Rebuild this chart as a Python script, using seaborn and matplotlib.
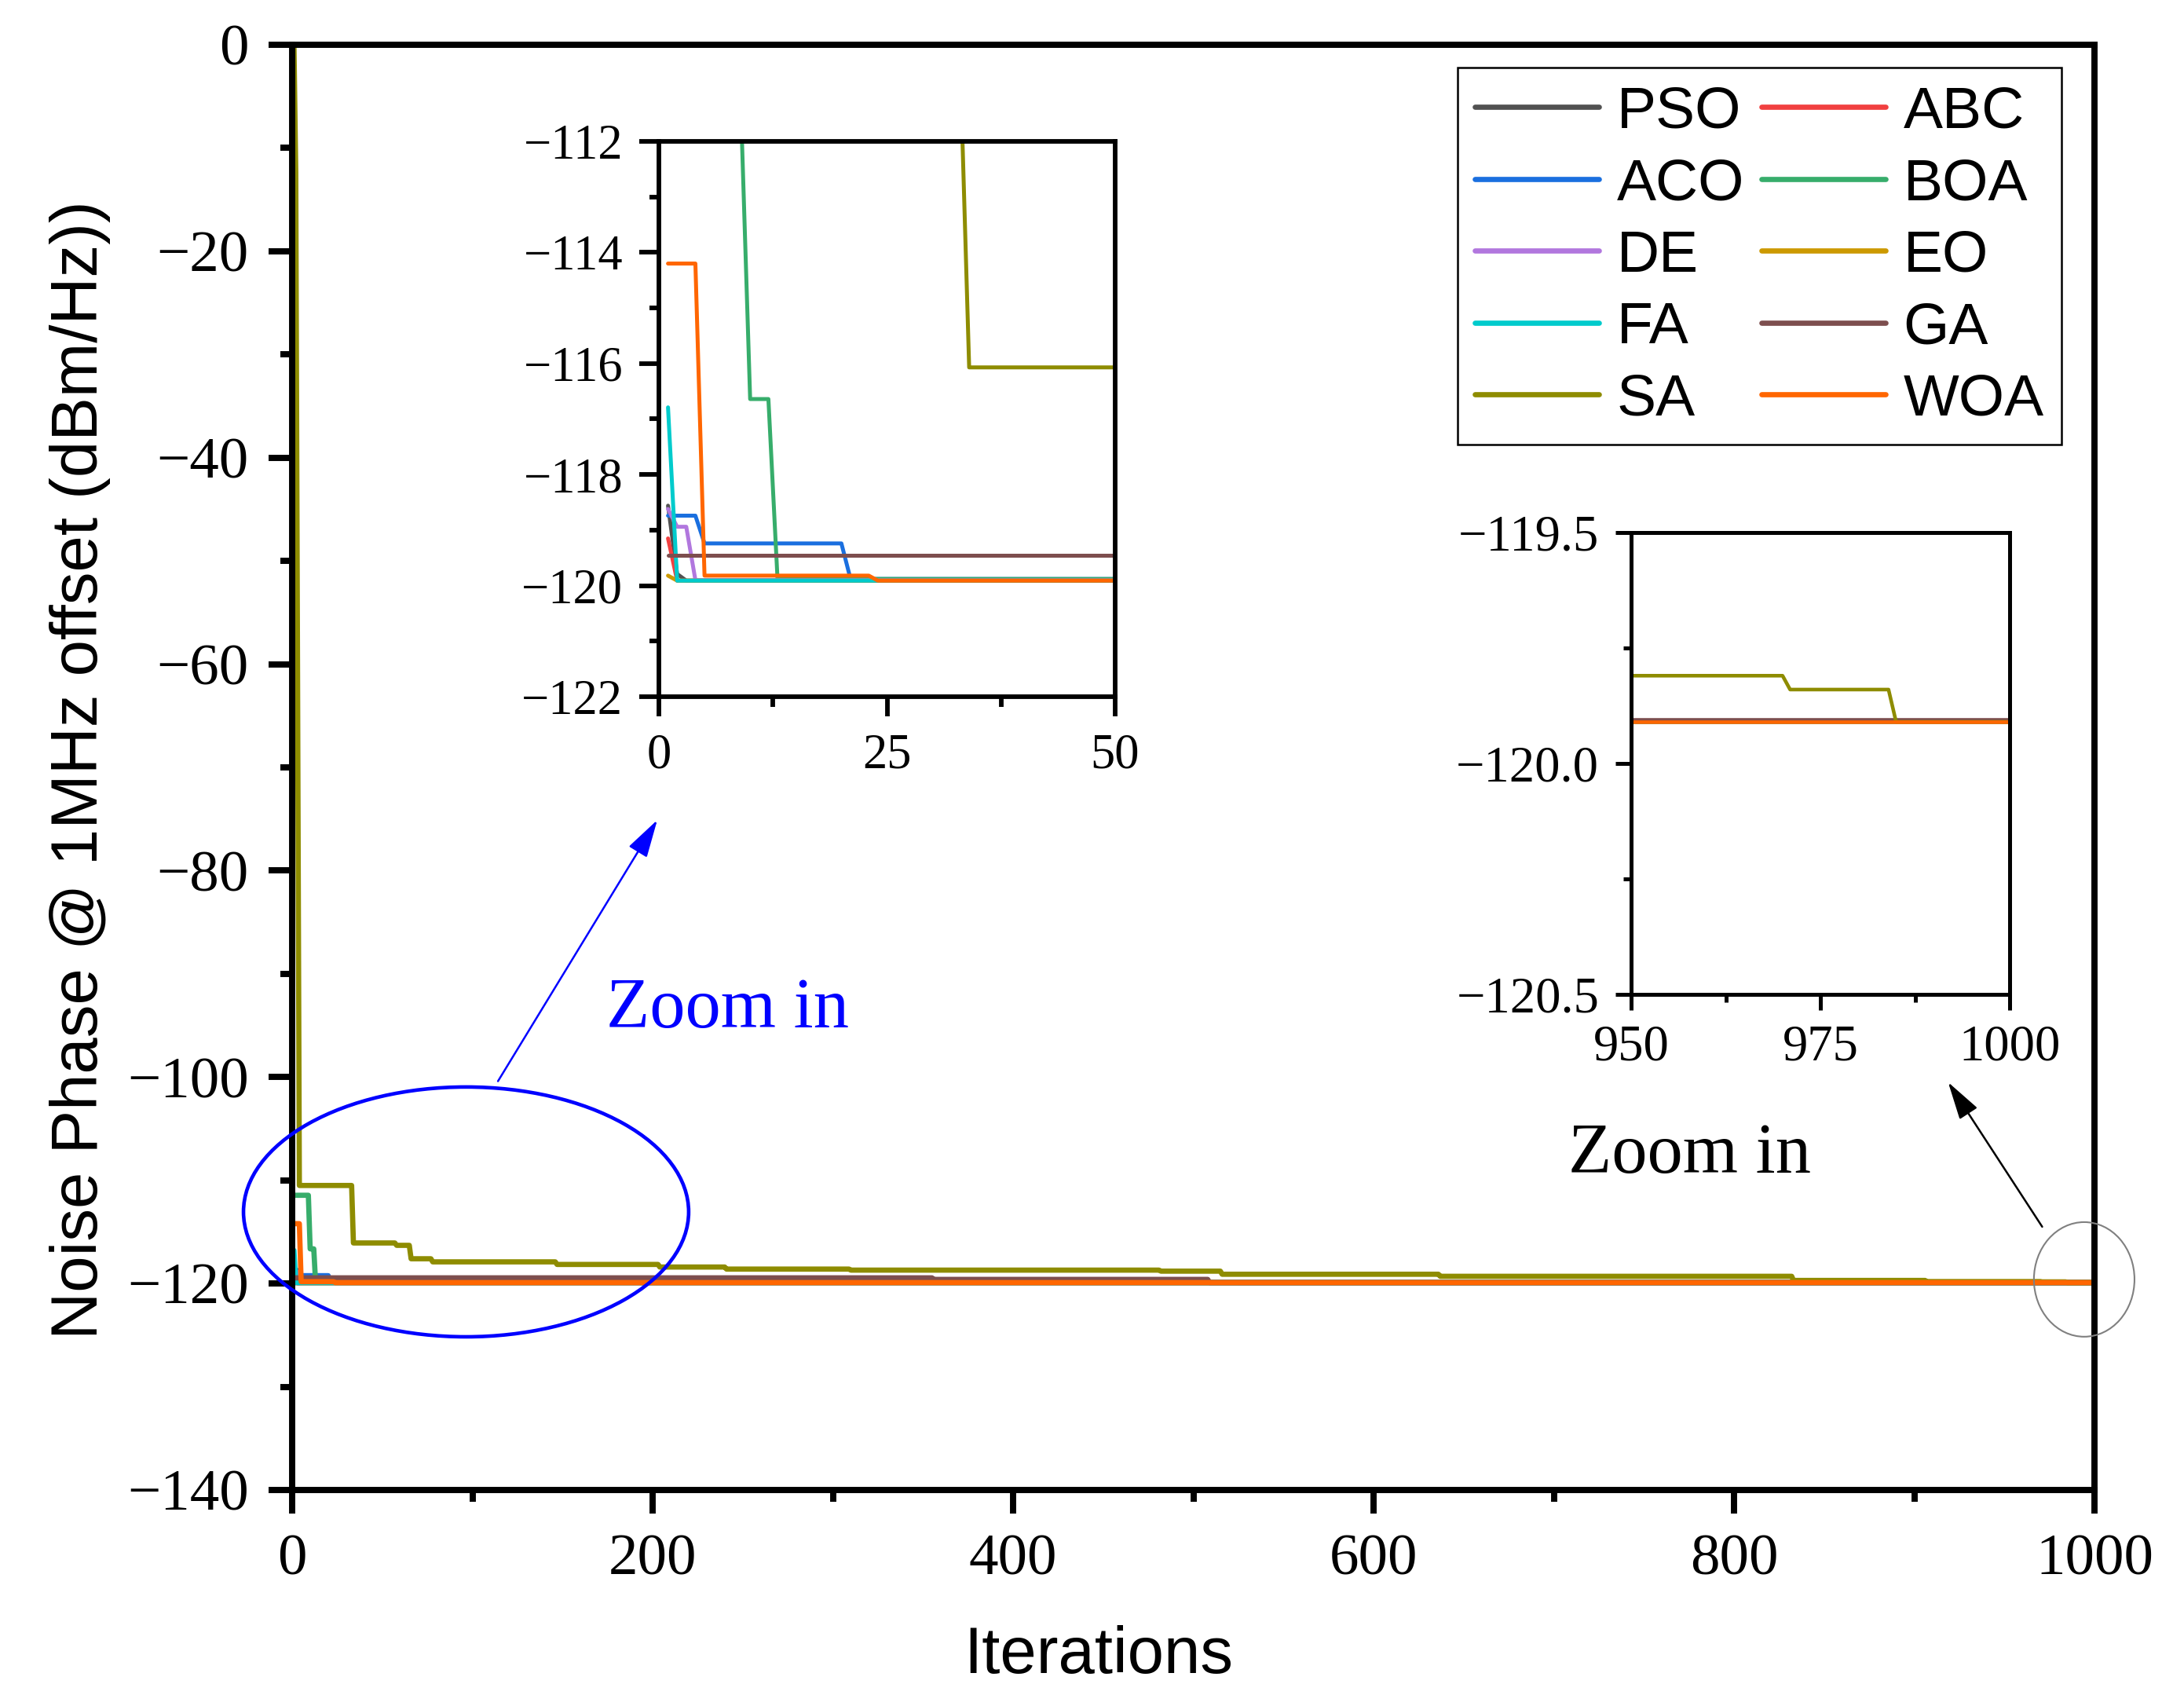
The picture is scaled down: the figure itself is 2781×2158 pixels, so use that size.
import matplotlib
matplotlib.use("Agg")
import matplotlib.pyplot as plt
import pandas as pd
import seaborn as sns
from matplotlib.lines import Line2D
from matplotlib.patches import Ellipse
from matplotlib.ticker import FuncFormatter, MultipleLocator

algorithms = ["PSO", "ABC", "ACO", "BOA", "DE", "EO", "FA", "GA", "SA", "WOA"]
colors = ["#515151", "#F14040", "#1A6FDF", "#37AD6B", "#B177DE",
          "#CC9900", "#00CBCC", "#7D4E4E", "#8E8C00", "#FF6600"]

# best-so-far curves, given at the iterations where they change (dBm/Hz)
pso_iter = [1, 2, 3, 1000]
pso_val = [-118.56, -119.79, -119.91, -119.91]
abc_iter = [1, 2, 1000]
abc_val = [-119.15, -119.91, -119.91]
aco_iter = [1, 4, 5, 20, 21, 1000]
aco_val = [-118.74, -118.74, -119.24, -119.24, -119.88, -119.91]
boa_iter = [1, 9, 10, 12, 13, 1000]
boa_val = [-111.45, -111.45, -116.64, -116.64, -119.88, -119.91]
de_iter = [1, 2, 3, 4, 1000]
de_val = [-118.62, -118.94, -118.94, -119.9, -119.91]
eo_iter = [1, 2, 1000]
eo_val = [-119.82, -119.91, -119.91]
fa_iter = [1, 2, 1000]
fa_val = [-116.79, -119.91, -119.91]
ga_iter = [1, 355, 356, 508, 509, 1000]
ga_val = [-119.45, -119.45, -119.6, -119.6, -119.905, -119.905]
sa_iter = [1, 2, 3, 4, 33, 34, 57, 58, 65, 66, 77, 78, 146, 147, 203, 204,
           240, 241, 309, 310, 481, 482, 515, 516, 636, 637, 832, 833, 906,
           907, 970, 971, 984, 985, 1000]
sa_val = [0.0, -12.4, -61.4, -110.5, -110.5, -116.07, -116.07, -116.3, -116.3,
          -117.6, -117.6, -117.9, -117.9, -118.15, -118.15, -118.4, -118.4,
          -118.6, -118.6, -118.7, -118.7, -118.8, -118.8, -119.1, -119.1,
          -119.3, -119.3, -119.7, -119.7, -119.81, -119.81, -119.84, -119.84,
          -119.91, -119.91]
woa_iter = [1, 4, 5, 23, 24, 1000]
woa_val = [-114.2, -114.2, -119.82, -119.82, -119.91, -119.91]

curves = {
    "PSO": (pso_iter, pso_val), "ABC": (abc_iter, abc_val),
    "ACO": (aco_iter, aco_val), "BOA": (boa_iter, boa_val),
    "DE": (de_iter, de_val), "EO": (eo_iter, eo_val),
    "FA": (fa_iter, fa_val), "GA": (ga_iter, ga_val),
    "SA": (sa_iter, sa_val), "WOA": (woa_iter, woa_val),
}
rows = []
for name, (its, vals) in curves.items():
    for i, v in zip(its, vals):
        rows.append({"Algorithm": name, "Iteration": i, "Value": v})
df = pd.DataFrame(rows)
palette = dict(zip(algorithms, colors))

sns.set_style("ticks", {"axes.edgecolor": "black", "xtick.color": "black",
                        "ytick.color": "black", "text.color": "black",
                        "axes.labelcolor": "black"})
plt.rcParams["font.family"] = ["Liberation Serif", "DejaVu Serif"]

W, H = 2781, 2158
fig = plt.figure(figsize=(W / 300, H / 300), dpi=300)


def px_axes(l, t, r, b):
    return fig.add_axes([l / W, 1 - b / H, (r - l) / W, (b - t) / H])


def draw_curves(ax, lw):
    sns.lineplot(data=df, x="Iteration", y="Value", hue="Algorithm",
                 hue_order=algorithms, palette=palette, linewidth=lw,
                 errorbar=None, legend=False, ax=ax)
    ax.set_xlabel("")
    ax.set_ylabel("")


def style_axes(ax, lw, major, minor, size, xpad, ypad):
    for s in ax.spines.values():
        s.set_linewidth(lw)
        s.set_visible(True)
    ax.tick_params(which="both", direction="out", top=False, right=False,
                   width=lw, labelsize=size)
    ax.tick_params(which="major", length=major)
    ax.tick_params(which="minor", length=minor)
    ax.tick_params(axis="x", which="both", pad=xpad)
    ax.tick_params(axis="y", which="both", pad=ypad)


# main plot
ax = px_axes(372, 57, 2667, 1897)
draw_curves(ax, 1.6)
ax.set_xlim(0, 1000)
ax.set_ylim(-140, 0)
ax.xaxis.set_major_locator(MultipleLocator(200))
ax.xaxis.set_minor_locator(MultipleLocator(100))
ax.yaxis.set_major_locator(MultipleLocator(20))
ax.yaxis.set_minor_locator(MultipleLocator(10))
style_axes(ax, 1.9, 7.2, 3.6, 18, 6.2, 6)

ax.set_xlabel("Iterations", fontsize=20, family="Liberation Sans")
ax.xaxis.set_label_coords(0.4475, -0.1266)
ax.xaxis.label.set_va("baseline")
ax.set_ylabel("Noise Phase @ 1MHz offset (dBm/Hz))", fontsize=20,
              family="Liberation Sans")
ax.yaxis.label.set_rotation_mode("anchor")
ax.yaxis.label.set_va("baseline")
ax.yaxis.set_label_coords(-0.1081, 0.498)

handles = [Line2D([], [], color=c, lw=1.6) for c in colors]
order = [0, 2, 4, 6, 8, 1, 3, 5, 7, 9]
leg = ax.legend([handles[i] for i in order], [algorithms[i] for i in order],
                ncol=2, loc="upper right", bbox_to_anchor=(0.9817, 0.9842),
                borderaxespad=0, prop={"family": "Liberation Sans", "size": 18},
                handlelength=2.1, handletextpad=0.3, columnspacing=0.3,
                labelspacing=0.3, borderpad=0.3, frameon=True, fancybox=False,
                edgecolor="black", framealpha=1)
leg.get_frame().set_linewidth(0.6)

# zoom markers
ax.add_patch(Ellipse((96.5, -113.06), 247, 24.2, fill=False,
                     edgecolor="blue", lw=1.1, clip_on=False, zorder=3))
ax.add_patch(Ellipse((994.3, -119.6), 55.8, 11.1, fill=False,
                     edgecolor="gray", lw=0.5, clip_on=False, zorder=3))
arrow = "-|>,head_length=1.0,head_width=0.28"
ax.annotate("", xy=(202.6, -75.1), xytext=(114.2, -100.4),
            arrowprops=dict(arrowstyle=arrow, color="blue", lw=0.6,
                            shrinkA=0, shrinkB=0, mutation_scale=10))
ax.annotate("", xy=(918.8, -100.5), xytext=(971.0, -114.5),
            arrowprops=dict(arrowstyle=arrow, color="black", lw=0.6,
                            shrinkA=0, shrinkB=0, mutation_scale=10))
ax.text(241.4, -95.2, "Zoom in", color="blue", fontsize=21.7,
        ha="center", va="baseline")
ax.text(775.4, -109.26, "Zoom in", color="black", fontsize=21.7,
        ha="center", va="baseline")

minus = FuncFormatter(lambda v, p: f"{v:.1f}".replace("-", "\u2212"))

# inset: first 50 iterations
ax1 = px_axes(839, 180, 1420, 887)
draw_curves(ax1, 1.2)
ax1.set_xlim(0, 50)
ax1.set_ylim(-122, -112)
ax1.xaxis.set_major_locator(MultipleLocator(25))
ax1.xaxis.set_minor_locator(MultipleLocator(12.5))
ax1.yaxis.set_major_locator(MultipleLocator(2))
ax1.yaxis.set_minor_locator(MultipleLocator(1))
style_axes(ax1, 1.4, 6, 3, 15, 5.2, 5)

# inset: last 50 iterations
ax2 = px_axes(2077, 678, 2559, 1266)
draw_curves(ax2, 1.1)
ax2.set_xlim(950, 1000)
ax2.set_ylim(-120.5, -119.5)
ax2.xaxis.set_major_locator(MultipleLocator(25))
ax2.xaxis.set_minor_locator(MultipleLocator(12.5))
ax2.yaxis.set_major_locator(MultipleLocator(0.5))
ax2.yaxis.set_minor_locator(MultipleLocator(0.25))
ax2.yaxis.set_major_formatter(minus)
style_axes(ax2, 1.2, 4.8, 2.4, 15.5, 4.4, 5)

fig.savefig("out.png", dpi=300)
